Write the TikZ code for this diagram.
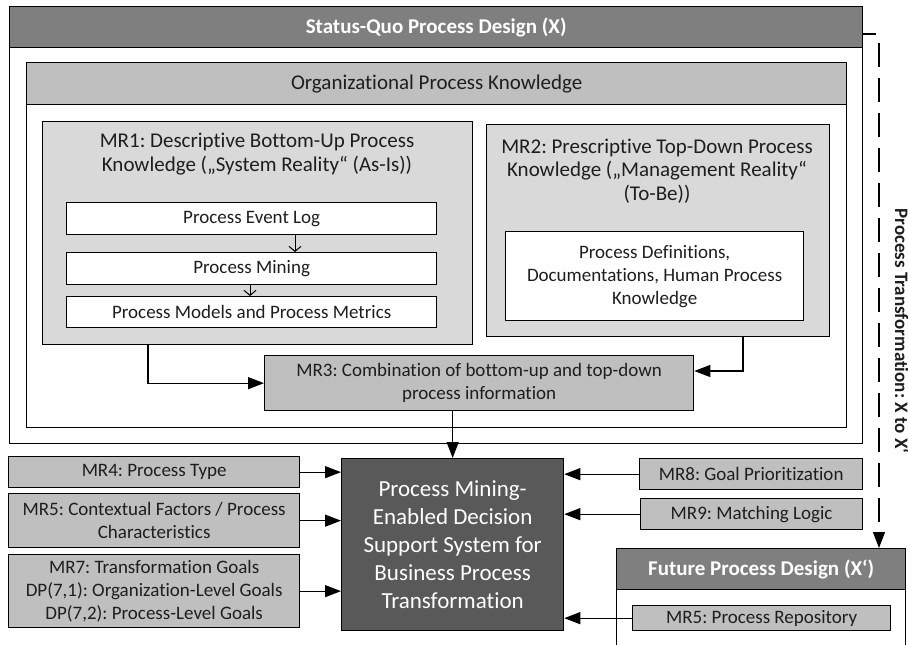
\documentclass[tikz,border=0pt]{standalone}
\usepackage{fontspec}
\setmainfont{Carlito}[Ligatures={NoCommon,NoContextual}]
\usetikzlibrary{arrows.meta,calc}
\definecolor{hdrgray}{HTML}{7F7F7F}
\definecolor{midgray}{HTML}{BFBFBF}
\definecolor{lightgray}{HTML}{D9D9D9}
\definecolor{darkgray}{HTML}{595959}
\definecolor{txtcol}{HTML}{1E1E1E}
\frenchspacing
\begin{document}
\begin{tikzpicture}[x=1pt,y=-1pt,
  bx/.style={draw=black, line width=1.3pt, rectangle, anchor=north west, inner sep=0pt, text=txtcol},
  fbody/.style={font=\fontsize{19}{23}\selectfont},
  ftitle/.style={font=\fontsize{21}{23.5}\selectfont},
  fbold/.style={font=\fontsize{21}{24}\selectfont\bfseries},
  arr/.style={-{Triangle[length=16pt,width=12pt]}, line width=1.2pt},
  smallarr/.style={-{Straight Barb[length=5pt,width=12pt]}, line width=1pt},
  ttl/.style={align=center, text=txtcol}]
\useasboundingbox (0,0) rectangle (908,645);

% Status-quo outer box
\node[bx, fill=white, minimum width=853pt, minimum height=437pt] (outer) at (9,6) {};
\node[bx, fill=hdrgray, minimum width=853pt, minimum height=41pt, fbold, text=white] (sqhead) at (9,6) {Status-Quo Process Design (X)};

% Organizational process knowledge
\node[bx, fill=white, minimum width=820pt, minimum height=365pt] (org) at (26,62) {};
\node[bx, fill=midgray, minimum width=820pt, minimum height=42pt, ftitle] (orghead) at (26,62) {Organizational Process Knowledge};

% MR1
\node[bx, fill=lightgray, minimum width=430pt, minimum height=223pt] (mr1) at (42,121) {};
\node[ttl, ftitle] (mr1t) at (257,154) {MR1: Descriptive Bottom-Up Process\\Knowledge („System Reality“ (As-Is))};
\node[bx, fill=white, minimum width=370pt, minimum height=32pt, fbody] (event) at (66,202) {Process Event Log};
\node[bx, fill=white, minimum width=370pt, minimum height=32pt, fbody] (mining) at (66,252) {Process Mining};
\node[bx, fill=white, minimum width=370pt, minimum height=31pt, fbody] (models) at (66,296) {Process Models and Process Metrics};

% MR2
\node[bx, fill=lightgray, minimum width=343pt, minimum height=212pt] (mr2) at (486,124) {};
\node[ttl, ftitle] (mr2t) at (657,171) {MR2: Prescriptive Top-Down Process\\Knowledge („Management Reality“\\(To-Be))};
\node[bx, fill=white, minimum width=298pt, minimum height=89pt, fbody, align=center] (defs) at (505,231) {Process Definitions,\\Documentations, Human Process\\Knowledge};

% MR3
\node[bx, fill=midgray, minimum width=429pt, minimum height=55pt, fbody, align=center] (mr3) at (264,355) {MR3: Combination of bottom-up and top-down\\process information};

% DSS
\node[bx, fill=darkgray, minimum width=222pt, minimum height=172pt, text=white, align=center, font=\fontsize{23}{28}\selectfont] (dss) at (341,458) {Process Mining-\\Enabled Decision\\Support System for\\Business Process\\Transformation};

% left inputs
\node[bx, fill=midgray, minimum width=291pt, minimum height=31pt, fbody] (mr4) at (8,456) {MR4: Process Type};
\node[bx, fill=midgray, minimum width=291pt, minimum height=54pt, fbody, align=center] (mr5) at (8,493) {MR5: Contextual Factors / Process\\Characteristics};
\node[bx, fill=midgray, minimum width=291pt, minimum height=73pt, fbody, align=center] (mr7) at (8,554) {MR7: Transformation Goals\\DP(7,1): Organization-Level Goals\\DP(7,2): Process-Level Goals};

% right inputs
\node[bx, fill=midgray, minimum width=223pt, minimum height=31pt, fbody] (mr8) at (639,458) {MR8: Goal Prioritization};
\node[bx, fill=midgray, minimum width=222pt, minimum height=31pt, fbody] (mr9) at (640,498) {MR9: Matching Logic};

% Future process design
\node[bx, fill=white, minimum width=289pt, minimum height=120pt] (future) at (616,548) {};
\node[bx, fill=hdrgray, minimum width=289pt, minimum height=41pt, fbold, text=white] (fhead) at (616,548) {Future Process Design (X‘)};
\node[bx, fill=midgray, minimum width=258pt, minimum height=25pt, fbody] (repo) at (632,605) {MR5: Process Repository};

% rotated label
\node[rotate=-90, font=\fontsize{19}{22}\selectfont\bfseries, text=txtcol] (ptlab) at (902,331) {Process Transformation: X to X‘};

% connectors inside MR1
\path (event.south west) ++(229,0) coordinate (e1);
\draw[smallarr] (e1) -- (e1 |- mining.north);
\path (mining.south west) ++(184,0) coordinate (e2);
\draw[smallarr] (e2) -- (e2 |- models.north);

% MR1 / MR2 to MR3
\path (mr1.south west) ++(106,0) coordinate (m1);
\draw[arr] (m1) |- (mr3.west);
\path (mr2.south west) ++(257,0) coordinate (m2);
\path (mr3.north east) ++(0,16) coordinate (m3);
\draw[arr] (m2) |- (m3);

% MR3 to DSS
\draw[arr] (dss.north |- mr3.south) -- (dss.north);

% inputs to DSS
\draw[arr] (mr4.east) -- (mr4.east -| dss.west);
\draw[arr] (mr5.east) -- (mr5.east -| dss.west);
\draw[arr] (mr7.east) -- (mr7.east -| dss.west);
\draw[arr] (mr8.west) -- (mr8.west -| dss.east);
\draw[arr] (mr9.west) -- (mr9.west -| dss.east);
\draw[arr] (repo.west) -- (repo.west -| dss.east);

% transformation link
\path (outer.north east) ++(0,28) coordinate (t0);
\coordinate (t1) at (876,34);
\draw[line width=1.2pt] (t0) -- (t1);
\coordinate (t2) at (879,43);
\draw[arr, dash pattern=on 24pt off 11pt] (t2) -- (t2 |- fhead.north);
\end{tikzpicture}
\end{document}
